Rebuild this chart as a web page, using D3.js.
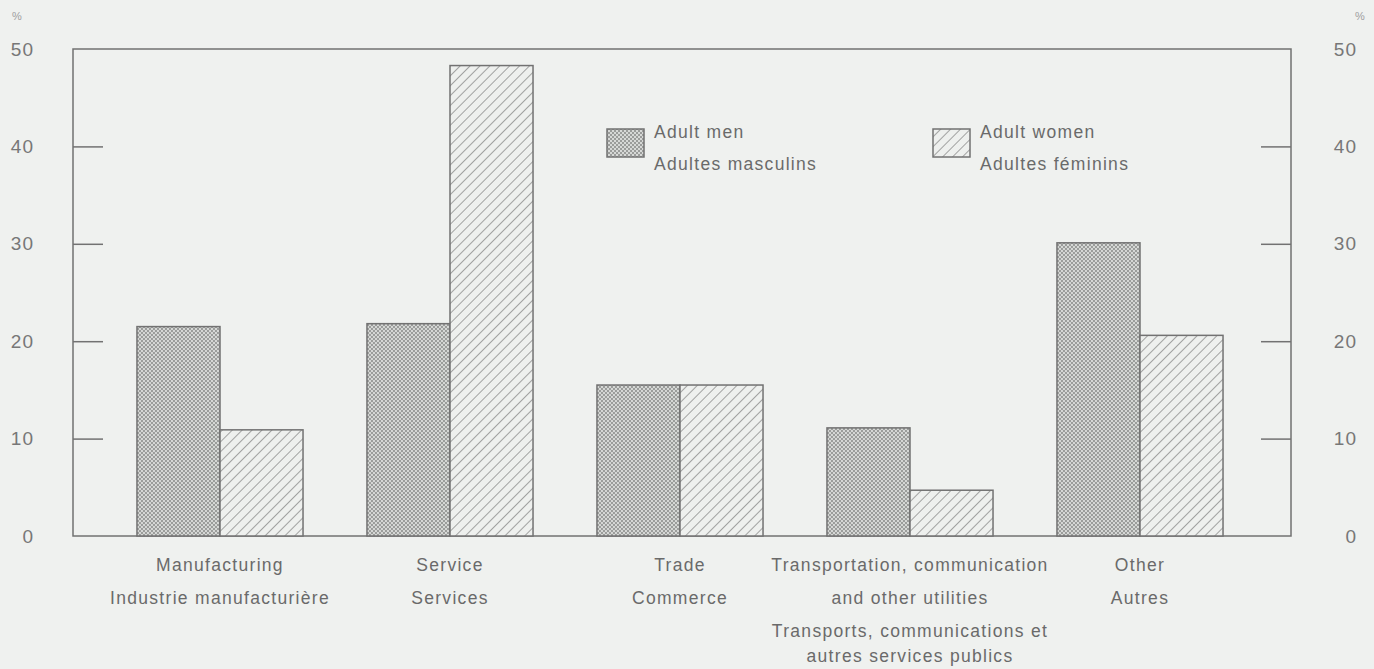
<!DOCTYPE html>
<html>
<head>
<meta charset="utf-8" />
<title>Adults by industry</title>
<style>
  html, body { margin: 0; background: #eff1ef; }
  svg { display: block; font-family: "Liberation Sans", Arial, sans-serif; }
  .lbl { fill: #6a6a6a; font-size: 17.5px; letter-spacing: 1.3px; }
  .tick text { fill: #777; font-size: 19px; letter-spacing: 1px; }
</style>
</head>
<body>
<div id="container"></div>
<script src="https://cdn.jsdelivr.net/npm/d3@7"></script>
<script>
// data (percent)
var categories = ["manuf", "service", "trade", "transport", "other"];
var catLabels = [
  ["Manufacturing", "Industrie manufacturière"],
  ["Service", "Services"],
  ["Trade", "Commerce"],
  ["Transportation, communication", "and other utilities", "Transports, communications et", "autres services publics"],
  ["Other", "Autres"]
];
var series = ["men", "women"];
var seriesLabels = [["Adult men", "Adultes masculins"], ["Adult women", "Adultes féminins"]];
var men = [21.5, 21.8, 15.5, 11.1, 30.1];
var women = [10.9, 48.3, 15.5, 4.7, 20.6];
var yTicks = [0, 10, 20, 30, 40, 50];

var W = 1374, H = 669;
var mLeft = 73, mRight = 1291, mTop = 49, mBottom = 536;
var ink = "#727272";

var svg = d3.select("#container").append("svg")
    .attr("width", W)
    .attr("height", H);

var defs = svg.append("defs");
// fine dot screen for men
var dots = defs.append("pattern")
    .attr("id", "dots")
    .attr("patternUnits", "userSpaceOnUse")
    .attr("width", 4).attr("height", 4);
dots.append("rect").attr("width", 4).attr("height", 4).attr("fill", "#d6d8d6");
dots.append("rect").attr("width", 2).attr("height", 2).attr("fill", "#9a9c9a");
dots.append("rect").attr("x", 2).attr("y", 2).attr("width", 2).attr("height", 2).attr("fill", "#9a9c9a");
// diagonal hatch for women
var hatch = defs.append("pattern")
    .attr("id", "hatch")
    .attr("patternUnits", "userSpaceOnUse")
    .attr("width", 7).attr("height", 7)
    .attr("patternTransform", "rotate(45)");
hatch.append("rect").attr("width", 7).attr("height", 7).attr("fill", "#eef0ee");
hatch.append("line")
    .attr("x1", 0).attr("y1", 0).attr("x2", 0).attr("y2", 7)
    .attr("stroke", "#808080").attr("stroke-width", 1.4);
var fills = {men: "url(#dots)", women: "url(#hatch)"};

var x = d3.scaleBand()
    .domain(categories)
    .range([105, 1255])
    .paddingInner(0.278)
    .paddingOuter(0.139);
var xs = d3.scaleBand().domain(series).range([0, x.bandwidth()]);
var y = d3.scaleLinear().domain([0, 50]).range([mBottom, mTop]);

// frame
svg.append("rect")
    .attr("x", mLeft).attr("y", mTop)
    .attr("width", mRight - mLeft).attr("height", mBottom - mTop)
    .attr("fill", "none").attr("stroke", ink).attr("stroke-width", 1.5);

// axes with inward ticks
var yl = svg.append("g")
    .attr("transform", "translate(" + mLeft + ",0)")
    .call(d3.axisLeft(y).tickValues(yTicks).tickSize(-30).tickPadding(39));
var yr = svg.append("g")
    .attr("transform", "translate(" + mRight + ",0)")
    .call(d3.axisRight(y).tickValues(yTicks).tickSize(-30).tickPadding(66));
yr.selectAll("text").attr("text-anchor", "end");
[yl, yr].forEach(function(g) {
  g.select(".domain").remove();
  g.selectAll("line").attr("stroke", ink).attr("stroke-width", 1.5)
    .filter(function(d) { return d === 0 || d === 50; }).remove();
  g.selectAll("text").attr("font-family", null).attr("font-size", null);
});

svg.append("text").attr("x", 12).attr("y", 20)
    .attr("font-size", "11px").attr("fill", "#a0a0a0").text("%");
svg.append("text").attr("x", 1355).attr("y", 20)
    .attr("font-size", "11px").attr("fill", "#a0a0a0").text("%");

// bars
var rows = categories.map(function(c, i) {
  return {cat: c, vals: [{s: "men", v: men[i]}, {s: "women", v: women[i]}]};
});
var grp = svg.selectAll("g.grp").data(rows).enter().append("g")
    .attr("class", "grp")
    .attr("transform", function(d) { return "translate(" + x(d.cat) + ",0)"; });
grp.selectAll("rect").data(function(d) { return d.vals; }).enter().append("rect")
    .attr("x", function(d) { return xs(d.s); })
    .attr("y", function(d) { return y(d.v); })
    .attr("width", xs.bandwidth())
    .attr("height", function(d) { return y(0) - y(d.v); })
    .attr("fill", function(d) { return fills[d.s]; })
    .attr("stroke", ink).attr("stroke-width", 1.5);

// category labels
var lineY = [571, 604, 637, 662];
grp.each(function(d, i) {
  var g = d3.select(this);
  catLabels[i].forEach(function(t, j) {
    g.append("text").attr("class", "lbl")
      .attr("x", x.bandwidth() / 2).attr("y", lineY[j])
      .attr("text-anchor", "middle").text(t);
  });
});

// legend
var legPos = [{sx: 607, tx: 654}, {sx: 933, tx: 980}];
series.forEach(function(s, i) {
  var p = legPos[i];
  svg.append("rect")
    .attr("x", p.sx).attr("y", 129).attr("width", 37).attr("height", 28)
    .attr("fill", fills[s]).attr("stroke", ink).attr("stroke-width", 1.5);
  svg.append("text").attr("class", "lbl").attr("x", p.tx).attr("y", 138).text(seriesLabels[i][0]);
  svg.append("text").attr("class", "lbl").attr("x", p.tx).attr("y", 170).text(seriesLabels[i][1]);
});
</script>
</body>
</html>
